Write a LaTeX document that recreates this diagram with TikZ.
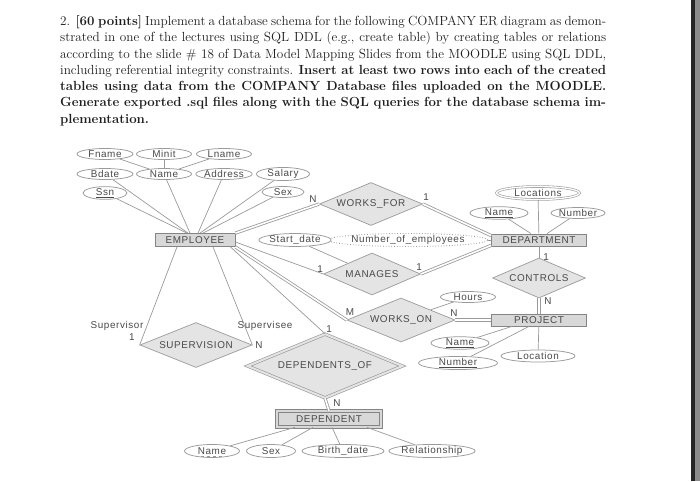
\documentclass[tikz,border=0pt]{standalone}
\usepackage{fontspec}
\newfontfamily\erfont[LetterSpace=6]{Liberation Sans}
\usetikzlibrary{shapes.geometric,calc}
\definecolor{ln}{HTML}{9A9A9A}
\definecolor{txt}{HTML}{4A4A4A}
\definecolor{relfill}{HTML}{E4E4E4}
\definecolor{entfill}{HTML}{D8D8D8}
\definecolor{entline}{HTML}{858585}
\definecolor{para}{HTML}{1E1E1E}
\begin{document}
\begin{tikzpicture}[x=1pt,y=-1pt,
  erf/.style={font=\erfont\fontsize{9.9}{10.5}\selectfont, text=txt},
  attr/.style={erf, ellipse, draw=ln, fill=white, inner sep=0pt, line width=0.75pt},
  multiattr/.style={attr, line width=0.6pt, double=white, double distance=1.3pt},
  derived/.style={attr, dotted, line width=0.9pt},
  entity/.style={erf, rectangle, draw=entline, fill=entfill, inner sep=0pt, line width=0.8pt},
  weakentity/.style={entity, line width=0.7pt, double=entfill, double distance=1.8pt},
  relation/.style={erf, diamond, draw=ln, fill=relfill, inner sep=0pt, aspect=2.4, line width=0.7pt},
  idrelation/.style={relation, line width=0.65pt, double=relfill, double distance=2pt},
  conn/.style={draw=ln, line width=0.7pt},
  dconn/.style={draw=ln, line width=0.8pt, double=white, double distance=1.6pt},
  lbl/.style={erf, inner sep=0pt},
  paraline/.style={anchor=base west, inner sep=0pt, text=para, font=\fontsize{13.2}{15}\selectfont}
]
\useasboundingbox (0,0) rectangle (700,481);
\fill[white] (0,0) rectangle (700,481);
\fill[black!85] (690.5,0) rectangle (695,481);
\fill[gray!90] (695,0) rectangle (700,481);

% ---- paragraph ----
\node[paraline] (l1) at (60,25.5) {\makebox[546pt][s]{2. \textbf{[60 points]} Implement a database schema for the following COMPANY ER diagram as demon-}};
\node[paraline] (l2) at (60,41.8) {\makebox[546pt][s]{strated in one of the lectures using SQL DDL (e.g., create table) by creating tables or relations}};
\node[paraline] (l3) at (60,58.1) {\makebox[546pt][s]{according to the slide \# 18 of Data Model Mapping Slides from the MOODLE using SQL DDL,}};
\node[paraline] (l4) at (60,74.4) {\makebox[546pt][s]{including referential integrity constraints. \textbf{Insert at least two rows into each of the created}}};
\node[paraline] (l5) at (60,90.7) {\makebox[546pt][s]{\bfseries tables using data from the COMPANY Database files uploaded on the MOODLE.}};
\node[paraline] (l6) at (60,107) {\makebox[546pt][s]{\bfseries Generate exported .sql files along with the SQL queries for the database schema im-}};
\node[paraline] (l7) at (60,123.3) {\bfseries plementation.};

% ---- attributes of EMPLOYEE ----
\node[attr, minimum width=56pt, minimum height=11pt] (fname) at (105,154) {Fname};
\node[attr, minimum width=55pt, minimum height=11pt] (minit) at (164,154) {Minit};
\node[attr, minimum width=55pt, minimum height=11pt] (lname) at (224,154) {Lname};
\node[attr, minimum width=56pt, minimum height=11pt] (bdate) at (105,174) {Bdate};
\node[attr, minimum width=55pt, minimum height=11pt] (ename) at (164,174) {Name};
\node[attr, minimum width=55pt, minimum height=11pt] (address) at (224,174) {Address};
\node[attr, minimum width=53pt, minimum height=11pt] (salary) at (283,174) {Salary};
\node[attr, minimum width=44pt, minimum height=11pt] (ssn) at (105,193) {\underline{Ssn}};
\node[attr, minimum width=42pt, minimum height=11pt] (sex) at (283,192) {Sex};

\node[entity, minimum width=80pt, minimum height=13pt] (emp) at (195,240) {EMPLOYEE};

% ---- relationships ----
\node[relation, minimum width=103pt, minimum height=43pt] (wf) at (371,204) {WORKS\_FOR};
\node[relation, minimum width=97pt, minimum height=42pt] (man) at (372,274) {MANAGES};
\node[relation, minimum width=93pt, minimum height=40pt] (ctrl) at (539,278) {CONTROLS};
\node[relation, minimum width=108pt, minimum height=44pt] (wo) at (401,320) {WORKS\_ON};
\node[relation, minimum width=112pt, minimum height=45pt] (sup) at (196,345) {SUPERVISION};
\node[idrelation, minimum width=155pt, minimum height=64pt] (dof) at (325,366) {DEPENDENTS\_OF};

% ---- DEPARTMENT ----
\node[multiattr, minimum width=83pt, minimum height=13pt] (locations) at (538,193) {Locations};
\node[attr, minimum width=58pt, minimum height=11pt] (dname) at (499,213) {\underline{Name}};
\node[attr, minimum width=50pt, minimum height=11pt] (dnumber) at (578,213) {Number};
\node[entity, minimum width=95pt, minimum height=12pt] (dept) at (539,240) {DEPARTMENT};
\node[derived, minimum width=127pt, minimum height=13pt] (noe) at (408,240) {Number\_of\_employees};
\node[attr, minimum width=60pt, minimum height=12pt] (startdate) at (295,240) {Start\_date};

% ---- PROJECT ----
\node[attr, minimum width=55pt, minimum height=11pt] (hours) at (468,297) {Hours};
\node[entity, minimum width=95pt, minimum height=12pt] (proj) at (539,320) {PROJECT};
\node[attr, minimum width=58pt, minimum height=12pt] (pname) at (460,343) {\underline{Name}};
\node[attr, minimum width=79pt, minimum height=13pt] (pnumber) at (458,363) {\underline{Number}};
\node[attr, minimum width=74pt, minimum height=12pt] (plocation) at (538,356) {Location};

% ---- DEPENDENT ----
\node[weakentity, minimum width=104pt, minimum height=16pt] (dep) at (329,419) {DEPENDENT};
\node[attr, minimum width=55pt, minimum height=13pt] (depname) at (212,451) {Name};
\node[attr, minimum width=49pt, minimum height=13pt] (depsex) at (271,451) {Sex};
\node[attr, minimum width=82pt, minimum height=13pt] (depbirth) at (343,451) {Birth\_date};
\node[attr, minimum width=85pt, minimum height=13pt] (deprel) at (432,451) {Relationship};
\draw[ln, dashed, line width=0.6pt] ($(depname.center)+(-11,4.8)$) -- ($(depname.center)+(11,4.8)$);

% ---- connectors ----
\draw[conn] (fname) -- (ename);
\draw[conn] (minit) -- (ename);
\draw[conn] (lname) -- (ename);
\draw[conn] (bdate) -- ([xshift=-7pt]emp.north);
\draw[conn] (ssn) -- ([xshift=-8pt]emp.north);
\draw[conn] (ename) -- ([xshift=-5pt]emp.north);
\draw[conn] (address) -- ([xshift=3pt]emp.north);
\draw[conn] (salary) -- ([xshift=5pt]emp.north);
\draw[conn] (sex) -- ([xshift=8pt]emp.north);

\draw[dconn] (emp.north east) -- (wf.west);
\draw[dconn] (wf.east) -- ([yshift=-2pt]dept.north west);
\draw[conn] ([yshift=-2pt]emp.east) -- (man.west);
\draw[conn] (startdate) -- (man);
\draw[dconn] (man.east) -- ([yshift=1pt]dept.south west);
\draw[conn] (noe) -- (dept);
\draw[conn] (locations) -- (dept);
\draw[conn] (dname) -- ([xshift=-8pt]dept.north);
\draw[conn] (dnumber) -- ([xshift=8pt]dept.north);
\draw[conn] (dept.south) -- (ctrl.north);
\draw[dconn] (ctrl.south) -- (proj.north);
\draw[dconn] (wo.east) -- (proj.west);
\draw[conn] (hours) -- (wo);
\draw[conn] (pname) -- ([xshift=-27pt]proj.south);
\draw[conn] (pnumber) -- ([xshift=-10pt]proj.south);
\draw[conn] (plocation) -- (proj);
\draw[dconn] (emp.south east) -- (wo.west);
\draw[conn] ([xshift=-5pt]emp.south east) -- (dof.north);
\draw[conn] ([xshift=-18pt]emp.south) -- (sup.west);
\draw[conn] ([xshift=18pt]emp.south) -- (sup.east);
\draw[dconn] (dof.south) -- (dep.north);
\draw[conn] (depname) -- ([xshift=-34pt]dep.south);
\draw[conn] (depsex) -- ([xshift=-16pt]dep.south);
\draw[conn] (depbirth) -- ([xshift=3pt]dep.south);
\draw[conn] (deprel) -- ([xshift=38pt]dep.south);

% ---- labels ----
\node[lbl] (n1) at (313,199) {N};
\node[lbl] (n2) at (426,197) {1};
\node[lbl] (n3) at (320,269) {1};
\node[lbl] (n4) at (419,267) {1};
\node[lbl] (n5) at (546,257) {1};
\node[lbl] (n6) at (548,301) {N};
\node[lbl] (n7) at (350,312) {M};
\node[lbl] (n8) at (454,313) {N};
\node[lbl] (n9) at (329,329) {1};
\node[lbl] (n10) at (337,403) {N};
\node[lbl] (n11) at (117,326) {Supervisor};
\node[lbl] (n12) at (132,337) {1};
\node[lbl] (n13) at (265,326) {Supervisee};
\node[lbl] (n14) at (259,345) {N};
\end{tikzpicture}
\end{document}
